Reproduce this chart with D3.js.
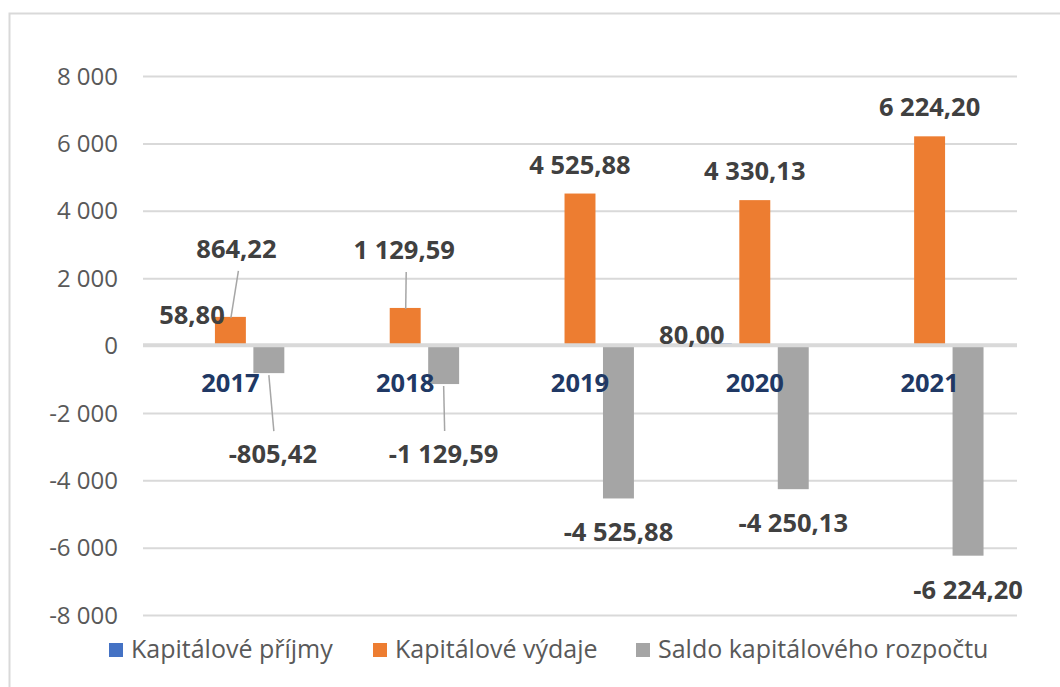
<!DOCTYPE html>
<html><head><meta charset="utf-8">
<script src="https://cdn.jsdelivr.net/npm/d3@7"></script>
<style>body{margin:0;background:#fff}svg{display:block}</style></head>
<body>
<svg id="c" width="1060" height="687"></svg>
<script>
// ---- data ----
const years = ["2017", "2018", "2019", "2020", "2021"];
const seriesNames = ["Kapitálové příjmy", "Kapitálové výdaje", "Saldo kapitálového rozpočtu"];
const prijmy = [58.80, 0, 0, 80.00, 0];
const vydaje = [864.22, 1129.59, 4525.88, 4330.13, 6224.20];
const saldo = [-805.42, -1129.59, -4525.88, -4250.13, -6224.20];
const yTicks = [-8000, -6000, -4000, -2000, 0, 2000, 4000, 6000, 8000];

// ---- style / layout ----
const colors = ["#4472C4", "#ED7D31", "#A5A5A5"];
const W = 1060, H = 687;
const plot = {left: 143, right: 1017, top: 76.5, bottom: 615.5};
// manual label adjustments (dx, dy relative to default position), leader lines
const labelAdj = {
  "0-0": {dx: 0, dy: 0},
  "0-3": {dx: -24.5, dy: 21},
  "1-0": {dx: 6, dy: -39, leader: true},
  "1-1": {dx: -1, dy: -29, leader: true},
  "2-0": {dx: 4, dy: 47, leader: true},
  "2-1": {dx: 0, dy: 36, leader: true}
};

const loc = d3.formatLocale({decimal: ",", thousands: "\u00a0", grouping: [3], currency: ["", ""], minus: "-"});
const fTick = v => loc.format(",.0f")(v).replace(/\u00a0/g, " ");
const fLab = v => loc.format(",.2f")(v).replace(/\u00a0/g, " ");

const svg = d3.select("#c");
svg.append("rect").attr("x", 0).attr("y", 0).attr("width", W).attr("height", H).attr("fill", "#fff");
svg.append("rect").attr("x", 9.5).attr("y", 13.5).attr("width", W + 20).attr("height", H + 20)
  .attr("fill", "none").attr("stroke", "#D9D9D9").attr("stroke-width", 2);

const y = d3.scaleLinear().domain([-8000, 8000]).range([plot.bottom, plot.top]);
const x0 = d3.scaleBand().domain(years).range([plot.left, plot.right]).paddingInner(0.383).paddingOuter(0.1915);
const x1 = d3.scaleBand().domain([0, 1, 2]).range([0, x0.bandwidth()]).paddingInner(0.195).paddingOuter(0);

// gridlines
svg.append("g").selectAll("line").data(yTicks.filter(t => t !== 0)).join("line")
  .attr("x1", plot.left).attr("x2", plot.right)
  .attr("y1", d => y(d)).attr("y2", d => y(d))
  .attr("stroke", "#D9D9D9").attr("stroke-width", 2);

// y axis labels
const yAxis = d3.axisLeft(y).tickValues(yTicks).tickFormat(fTick).tickSize(0).tickPadding(25);
const ga = svg.append("g").attr("transform", `translate(${plot.left},0)`).call(yAxis);
ga.select(".domain").remove();
ga.selectAll("text").attr("font-family", "Open Sans").attr("font-size", 24).attr("fill", "#595959");

const series = [prijmy, vydaje, saldo];
// bars
series.forEach((vals, s) => {
  svg.append("g").selectAll("rect").data(vals.map((v, i) => ({v, i}))).join("rect")
    .attr("x", d => x0(years[d.i]) + x1(s))
    .attr("width", x1.bandwidth())
    .attr("y", d => Math.min(y(d.v), y(0)))
    .attr("height", d => Math.abs(y(d.v) - y(0)))
    .attr("fill", colors[s]);
});

// horizontal axis line (drawn over the bars)
svg.append("line").attr("x1", plot.left).attr("x2", plot.right)
  .attr("y1", y(0) - 0.75).attr("y2", y(0) - 0.75)
  .attr("stroke", "#D9D9D9").attr("stroke-width", 4);

// category labels
svg.append("g").selectAll("text").data(years).join("text")
  .attr("x", d => x0(d) + x0.bandwidth() / 2)
  .attr("y", y(0) + 46)
  .attr("text-anchor", "middle")
  .attr("font-family", "Open Sans").attr("font-weight", "bold").attr("font-size", 25.5)
  .attr("fill", "#203864").text(d => d);

// data labels
const gl = svg.append("g");
series.forEach((vals, s) => {
  vals.forEach((v, i) => {
    if (v === 0) return;
    const cx = x0(years[i]) + x1(s) + x1.bandwidth() / 2;
    const end = y(v);
    const base = v > 0 ? end - 20 : end + 43;
    const adj = labelAdj[s + "-" + i] || {dx: 0, dy: 0};
    const lx = cx + adj.dx, ly = base + adj.dy;
    if (adj.leader) {
      let a, b;
      if (v > 0) { a = [lx + 2, ly + 13]; b = [cx + 0.5, end + 1]; }
      else { a = [cx, end + 2]; b = [lx + 1, ly - 32]; }
      gl.append("line").attr("x1", a[0]).attr("y1", a[1]).attr("x2", b[0]).attr("y2", b[1])
        .attr("stroke", "#A6A6A6").attr("stroke-width", 1.5);
    }
    gl.append("text").attr("x", lx).attr("y", ly).attr("text-anchor", "middle")
      .attr("font-family", "Open Sans").attr("font-weight", "bold").attr("font-size", 25.5)
      .attr("fill", "#404040").text(fLab(v));
  });
});

// legend
const legX = [109, 373, 636];
const lg = svg.append("g");
seriesNames.forEach((n, s) => {
  lg.append("rect").attr("x", legX[s]).attr("y", 643).attr("width", 14).attr("height", 14).attr("fill", colors[s]);
  lg.append("text").attr("x", legX[s] + 22).attr("y", 658)
    .attr("font-family", "Open Sans").attr("font-size", 25).attr("fill", "#595959").text(n);
});
</script>
</body></html>
